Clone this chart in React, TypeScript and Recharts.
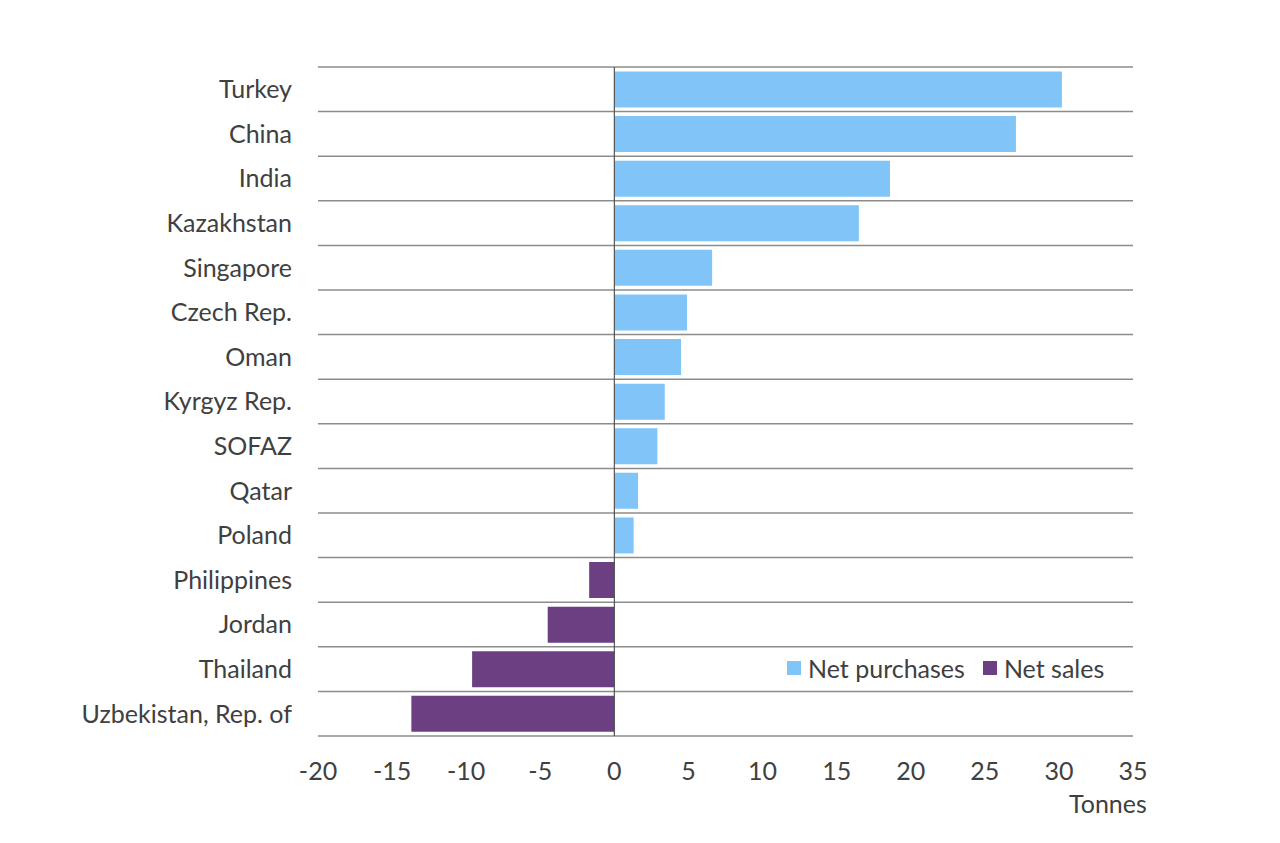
import { BarChart, Bar, XAxis, YAxis, CartesianGrid, ReferenceLine } from "recharts";

const countries = [
  "Turkey",
  "China",
  "India",
  "Kazakhstan",
  "Singapore",
  "Czech Rep.",
  "Oman",
  "Kyrgyz Rep.",
  "SOFAZ",
  "Qatar",
  "Poland",
  "Philippines",
  "Jordan",
  "Thailand",
  "Uzbekistan, Rep. of",
];

const netPurchases = [30.2, 27.1, 18.6, 16.5, 6.6, 4.9, 4.5, 3.4, 2.9, 1.6, 1.3, null, null, null, null];
const netSales = [null, null, null, null, null, null, null, null, null, null, null, -1.7, -4.5, -9.6, -13.7];

const xTicks = [-20, -15, -10, -5, 0, 5, 10, 15, 20, 25, 30, 35];

const BLUE = "#80c4f8";
const PURPLE = "#6b3f82";
const TEXT = "#404040";
const FONT = "Lato, 'Open Sans', sans-serif";

const data = countries.map((name, i) => ({
  name,
  purchases: netPurchases[i],
  sales: netSales[i],
}));

// grid lines sit between the category rows, not through their centres
const rowEdges = ({ offset }: any) => {
  const n = countries.length;
  const step = offset.height / n;
  return Array.from({ length: n + 1 }, (_, i) => offset.top + i * step);
};

function LegendBox() {
  const items = [
    { label: "Net purchases", color: BLUE },
    { label: "Net sales", color: PURPLE },
  ];
  return (
    <div
      style={{
        position: "absolute",
        left: 787,
        top: 653,
        display: "flex",
        alignItems: "center",
        fontFamily: FONT,
        fontSize: 25,
        color: TEXT,
      }}
    >
      {items.map((it) => (
        <div key={it.label} style={{ display: "flex", alignItems: "center", marginRight: 18 }}>
          <span style={{ width: 14, height: 14, background: it.color, display: "inline-block", marginRight: 7 }} />
          <span>{it.label}</span>
        </div>
      ))}
    </div>
  );
}

export default function App() {
  return (
    <div style={{ position: "absolute", left: 0, top: 0, width: 1280, height: 843, background: "#fff" }}>
      <BarChart
        width={1280}
        height={843}
        data={data}
        layout="vertical"
        barCategoryGap="10%"
        margin={{ top: 67, right: 147, bottom: 0, left: 0 }}
      >
        <CartesianGrid
          horizontal
          vertical={false}
          horizontalCoordinatesGenerator={rowEdges}
          stroke="#8c8c8c"
          strokeWidth={1.5}
        />
        <XAxis
          type="number"
          domain={[-20, 35]}
          ticks={xTicks}
          axisLine={false}
          tickLine={false}
          tickSize={0}
          tickMargin={26}
          tick={{ fill: TEXT, fontSize: 25, fontFamily: FONT }}
          height={107}
        />
        <YAxis
          type="category"
          dataKey="name"
          width={318}
          axisLine={false}
          tickLine={false}
          tickSize={0}
          tickMargin={26}
          tick={{ fill: TEXT, fontSize: 25, fontFamily: FONT }}
          interval={0}
        />
        <ReferenceLine x={0} stroke="#555" strokeWidth={1.2} />
        <Bar dataKey="purchases" stackId="a" fill={BLUE} isAnimationActive={false} />
        <Bar dataKey="sales" stackId="a" fill={PURPLE} isAnimationActive={false} />
      </BarChart>
      <LegendBox />
      <div style={{ position: "absolute", left: 1069, top: 788, fontFamily: FONT, fontSize: 25, color: TEXT }}>
        Tonnes
      </div>
    </div>
  );
}
